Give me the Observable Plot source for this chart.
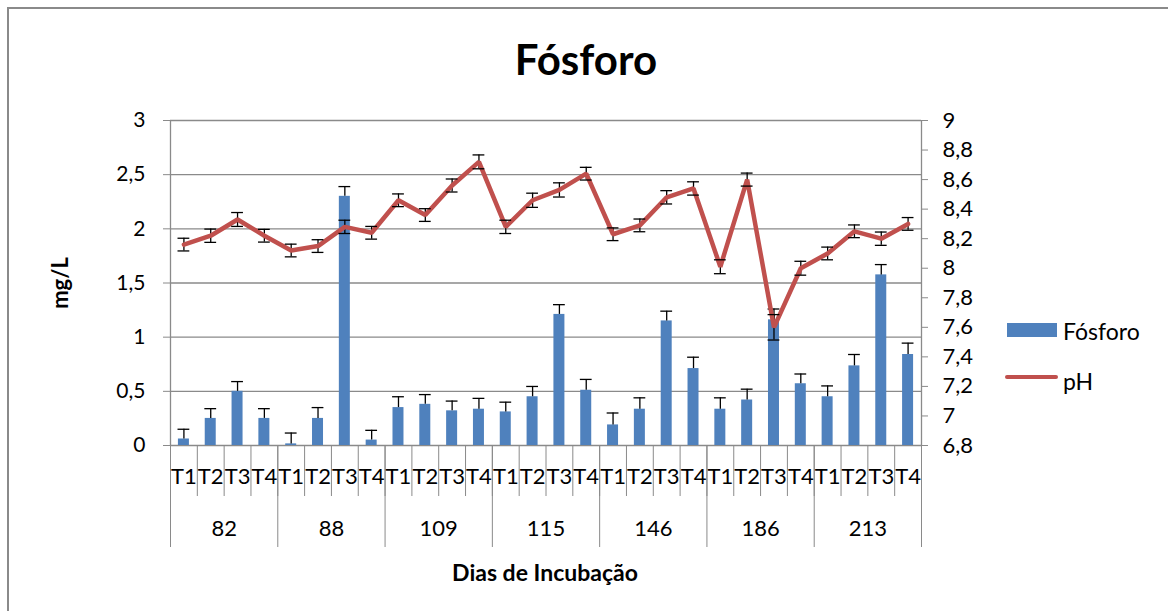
<!DOCTYPE html>
<html>
<head>
<meta charset="utf-8">
<script src="https://cdn.jsdelivr.net/npm/d3@7"></script>
<script src="https://cdn.jsdelivr.net/npm/@observablehq/plot@0.6"></script>
<style>
  html, body { margin: 0; padding: 0; background: #fff; overflow: hidden; }
  #wrap { position: relative; width: 1168px; height: 611px; font-family: Lato, "Open Sans", sans-serif; color: #000; }
  #border { position: absolute; left: 7px; top: 7px; width: 1300px; height: 800px; border-left: 2px solid #8a8a8a; border-top: 2px solid #8a8a8a; }
  #chart { position: absolute; left: 0; top: 0; }
  .lbl { position: absolute; white-space: nowrap; }
  #title { left: 0; width: 1172px; text-align: center; top: 38px; font-size: 42px; font-weight: 700; line-height: 42px; }
  #ylab { left: 60px; top: 283px; font-size: 22px; font-weight: 700; line-height: 22px; transform: translate(-50%, -50%) rotate(-90deg); }
  #xlab { left: 545px; top: 572px; font-size: 23px; font-weight: 700; line-height: 23px; transform: translate(-50%, -50%); }
  .sw { position: absolute; }
  .lt { position: absolute; font-size: 23px; line-height: 23px; transform: translateY(-50%); }
</style>
</head>
<body>
<div id="wrap">
  <div id="border"></div>
  <div id="chart"></div>
  <div id="title" class="lbl">Fósforo</div>
  <div id="ylab" class="lbl">mg/L</div>
  <div id="xlab" class="lbl">Dias de Incubação</div>
  <div class="sw" style="left:1007px; top:323px; width:50px; height:14px; background:#4f81bd;"></div>
  <div class="lt" style="left:1063px; top:331px;">Fósforo</div>
  <div class="sw" style="left:1005px; top:375px; width:53px; height:4px; background:#c0504d; border-radius:2px;"></div>
  <div class="lt" style="left:1063px; top:381px;">pH</div>
</div>
<script>
// ---- data ----
const groups = ["82", "88", "109", "115", "146", "186", "213"];
const treatments = ["T1", "T2", "T3", "T4"];
const fosforo = [0.06, 0.25, 0.50, 0.25,  0.015, 0.25, 2.30, 0.05,  0.35, 0.38, 0.32, 0.335,
                 0.31, 0.45, 1.21, 0.51,  0.19, 0.335, 1.15, 0.71,  0.335, 0.42, 1.16, 0.57,
                 0.45, 0.735, 1.575, 0.84];
const fosforoErr = [0.09, 0.09, 0.09, 0.09,  0.10, 0.10, 0.09, 0.09,  0.10, 0.09, 0.09, 0.10,
                    0.09, 0.095, 0.09, 0.10,  0.11, 0.105, 0.09, 0.105,  0.105, 0.10, 0.10, 0.09,
                    0.10, 0.105, 0.095, 0.105];
const ph = [8.16, 8.22, 8.33, 8.22,  8.12, 8.15, 8.28, 8.24,  8.46, 8.36, 8.56, 8.72,
            8.28, 8.46, 8.53, 8.64,  8.23, 8.29, 8.48, 8.54,  8.01, 8.60, 7.60, 8.00,
            8.10, 8.25, 8.20, 8.30];
const phErr = [0.043, 0.045, 0.047, 0.043,  0.043, 0.043, 0.045, 0.043,  0.043, 0.043, 0.044, 0.047,
               0.045, 0.048, 0.048, 0.043,  0.043, 0.043, 0.045, 0.045,  0.047, 0.044, 0.086, 0.047,
               0.043, 0.043, 0.045, 0.043];
const leftTicks = [0, 0.5, 1, 1.5, 2, 2.5, 3];
const rightTicks = [6.8, 7, 7.2, 7.4, 7.6, 7.8, 8, 8.2, 8.4, 8.6, 8.8, 9];

// ---- table ----
const rows = fosforo.map((v, i) => ({
  i, group: groups[Math.floor(i / 4)], t: treatments[i % 4],
  fosforo: v, fErr: fosforoErr[i], ph: ph[i], phErr: phErr[i]
}));
const toLeft = d3.scaleLinear([6.8, 9], [0, 3]);
const comma = v => String(+(+v).toFixed(2)).replace(".", ",");
const n = rows.length;
const dividers = d3.range(n + 1).map(k => k - 0.5);
const groupSeps = d3.range(groups.length + 1).map(k => k * 4 - 0.5);
const groupCenters = groups.map((g, k) => k * 4 + 1.5);
const grid = "#8a8a8a";
const bw = 0.205, cap = 0.22;

const chart = Plot.plot({
  width: 1168, height: 611,
  marginLeft: 170, marginRight: 247, marginTop: 120, marginBottom: 166,
  style: { fontFamily: "Lato, 'Open Sans', sans-serif", fontSize: "20px", color: "#000", background: "transparent", overflow: "visible" },
  x: { type: "linear", domain: [-0.5, n - 0.5] },
  y: { domain: [0, 3] },
  marks: [
    Plot.ruleY(leftTicks, { stroke: grid, strokeWidth: 1.3 }),
    Plot.ruleX([-0.5, n - 0.5], { y1: 0, y2: 3, stroke: grid, strokeWidth: 1.3 }),
    Plot.rectY(rows, { x1: d => d.i - bw, x2: d => d.i + bw, y1: 0, y2: "fosforo", fill: "#4f81bd" }),
    Plot.ruleX(rows, { x: "i", y1: "fosforo", y2: d => d.fosforo + d.fErr, stroke: "#000", strokeWidth: 1.3 }),
    Plot.ruleY(rows, { y: d => d.fosforo + d.fErr, x1: d => d.i - cap, x2: d => d.i + cap, stroke: "#000", strokeWidth: 1.3 }),
    Plot.ruleX(rows, { x: "i", y1: d => toLeft(d.ph - d.phErr), y2: d => toLeft(d.ph + d.phErr), stroke: "#000", strokeWidth: 1.3 }),
    Plot.line(rows, { x: "i", y: d => toLeft(d.ph), stroke: "#c0504d", strokeWidth: 4.5, strokeLinejoin: "miter" }),
    Plot.ruleY(rows, { y: d => toLeft(d.ph + d.phErr), x1: d => d.i - cap, x2: d => d.i + cap, stroke: "#000", strokeWidth: 1.3 }),
    Plot.ruleY(rows, { y: d => toLeft(d.ph - d.phErr), x1: d => d.i - cap, x2: d => d.i + cap, stroke: "#000", strokeWidth: 1.3 }),
    Plot.axisY({ anchor: "left", ticks: leftTicks, tickSize: 7, tickPadding: 18, tickFormat: comma, stroke: grid, fontSize: 21, label: null }),
    Plot.axisY({ anchor: "right", ticks: rightTicks.map(v => toLeft(v)), tickSize: 6, tickPadding: 15,
                 tickFormat: v => comma(toLeft.invert(v)), stroke: grid, fontSize: 22, label: null }),
    Plot.axisX({ ticks: dividers, tickSize: 51, tickFormat: () => "", stroke: grid, label: null }),
    Plot.axisX({ ticks: groupSeps, tickSize: 102, tickFormat: () => "", stroke: grid, label: null }),
    Plot.axisX({ ticks: rows.map(d => d.i), tickSize: 0, tickPadding: 23, tickFormat: i => treatments[i % 4], fontSize: 22, label: null }),
    Plot.axisX({ ticks: groupCenters, tickSize: 0, tickPadding: 75, tickFormat: c => groups[(c - 1.5) / 4], fontSize: 22, label: null })
  ]
});
document.getElementById("chart").appendChild(chart);
</script>
</body>
</html>
